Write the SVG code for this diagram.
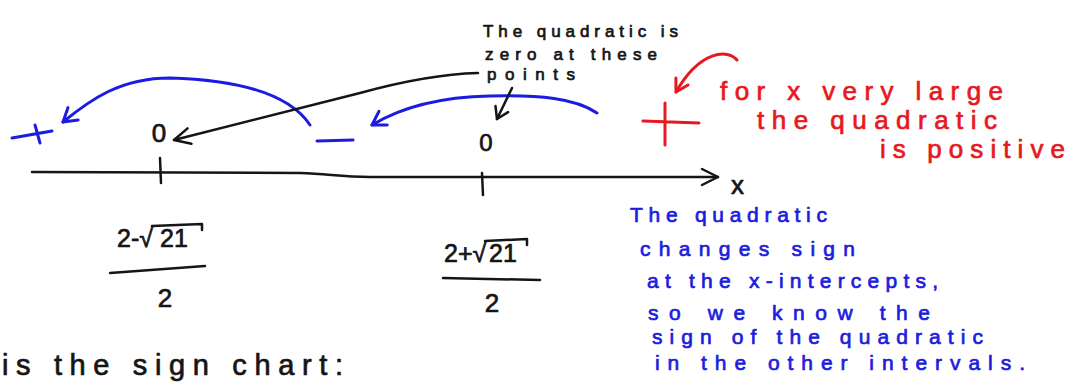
<svg xmlns="http://www.w3.org/2000/svg" width="1069" height="385" viewBox="0 0 1069 385">
  <style>
    .ink { fill: none; stroke-linecap: round; stroke-linejoin: round; }
    .k { stroke: #151515; stroke-width: 2.5; }
    .b { stroke: #1c1ce0; stroke-width: 3; }
    .r { stroke: #e81820; stroke-width: 3; }
    text { font-family: "Liberation Sans", Arial, sans-serif; stroke-width: 0.7; stroke-linejoin: round; }
    .tk { fill: #151515; stroke: #151515; }
    .tb { fill: #1c1ce0; stroke: #1c1ce0; }
    .tr { fill: #e81820; stroke: #e81820; }
  </style>
  <defs>
    <marker id="ah-k" markerUnits="userSpaceOnUse" markerWidth="24" markerHeight="24" viewBox="-20 -12 24 24" refX="0" refY="0" orient="auto">
      <path d="M -16 -8 L 0 0 L -16 8" fill="none" stroke="#151515" stroke-width="2.5" stroke-linecap="round" stroke-linejoin="round"/>
    </marker>
    <marker id="ah-ks" markerUnits="userSpaceOnUse" markerWidth="20" markerHeight="20" viewBox="-16 -10 20 20" refX="0" refY="0" orient="auto">
      <path d="M -11 -7 L 0 0 L -11 7" fill="none" stroke="#151515" stroke-width="2.5" stroke-linecap="round" stroke-linejoin="round"/>
    </marker>
    <marker id="ah-b" markerUnits="userSpaceOnUse" markerWidth="24" markerHeight="24" viewBox="-20 -12 24 24" refX="0" refY="0" orient="auto">
      <path d="M -13 -8 L 0 0 L -13 8" fill="none" stroke="#1c1ce0" stroke-width="3" stroke-linecap="round" stroke-linejoin="round"/>
    </marker>
    <marker id="ah-r" markerUnits="userSpaceOnUse" markerWidth="24" markerHeight="24" viewBox="-20 -12 24 24" refX="0" refY="0" orient="auto">
      <path d="M -12 -7 L 0 0 L -12 7" fill="none" stroke="#e81820" stroke-width="3" stroke-linecap="round" stroke-linejoin="round"/>
    </marker>
  </defs>

  <rect x="0" y="0" width="1069" height="385" fill="#ffffff"/>

  <g id="connectors">
    <path class="ink b" d="M 310 125 C 290 95, 240 80, 170 78 C 120 78, 90 100, 63 122" marker-end="url(#ah-b)"/>
    <path class="ink b" d="M 597 113 C 575 98, 540 95, 490 96 C 440 97, 400 108, 372 125" marker-end="url(#ah-b)"/>
    <path class="ink k" d="M 478 73 C 440 74, 400 82, 360 93 L 174 140" marker-end="url(#ah-k)"/>
    <path class="ink k" d="M 512 88 L 497 119" marker-end="url(#ah-ks)"/>
    <path class="ink r" d="M 737 60 C 728 49, 700 50, 676 92" marker-end="url(#ah-r)"/>
  </g>

  <g id="axis">
    <path class="ink k" d="M 32 172 L 300 173 C 330 174, 340 177, 370 177 L 718 177" marker-end="url(#ah-k)"/>
    <path class="ink k" d="M 160 158 L 161 183"/>
    <path class="ink k" d="M 482 173 L 483 195"/>
    <text class="tk" x="731" y="194" font-size="26">x</text>
  </g>

  <g id="sign-left">
    <path class="ink b" d="M 12 138 L 52 131 M 35 125 L 40 143"/>
  </g>
  <g id="sign-middle">
    <path class="ink b" d="M 317 141 L 353 140"/>
  </g>
  <g id="sign-right">
    <path class="ink r" d="M 643 121 L 699 123 M 665 103 L 665 145"/>
  </g>

  <g id="zero-left">
    <text class="tk" x="159" y="142" font-size="26" text-anchor="middle">0</text>
  </g>
  <g id="zero-right">
    <text class="tk" x="486" y="151" font-size="24" text-anchor="middle">0</text>
  </g>

  <g id="root-left">
    <text class="tk" x="117" y="247" font-size="25">2-√<tspan x="160">21</tspan></text>
    <path class="ink k" d="M 152 226 L 202 224 L 202 230"/>
    <path class="ink k" d="M 110 273 L 205 266"/>
    <text class="tk" x="165" y="307" font-size="26" text-anchor="middle">2</text>
  </g>
  <g id="root-right">
    <text class="tk" x="444" y="262" font-size="25">2+√<tspan x="489">21</tspan></text>
    <path class="ink k" d="M 485 241 L 527 239 L 527 245"/>
    <path class="ink k" d="M 443 278 L 540 280"/>
    <text class="tk" x="492" y="312" font-size="26" text-anchor="middle">2</text>
  </g>

  <g id="note-zero">
    <text class="tk" font-size="17">
      <tspan x="483" y="37" textLength="195">The quadratic is</tspan>
      <tspan x="485" y="60" textLength="172">zero at these</tspan>
      <tspan x="487" y="80" textLength="88">points</tspan>
    </text>
  </g>

  <g id="note-large">
    <text class="tr" font-size="26">
      <tspan x="720" y="100" textLength="283">for x very large</tspan>
      <tspan x="757" y="129" textLength="240">the quadratic</tspan>
      <tspan x="880" y="158" textLength="185">is positive</tspan>
    </text>
  </g>

  <g id="note-sign">
    <text class="tb" font-size="21">
      <tspan x="630" y="222" textLength="197">The quadratic</tspan>
      <tspan x="640" y="256" textLength="215">changes sign</tspan>
      <tspan x="647" y="288" textLength="291">at the x-intercepts,</tspan>
      <tspan x="648" y="320" textLength="282">so we know the</tspan>
      <tspan x="652" y="344" textLength="331">sign of the quadratic</tspan>
      <tspan x="655" y="370" textLength="370">in the other intervals.</tspan>
    </text>
  </g>

  <g id="caption">
    <text class="tk" x="2" y="375" font-size="29" textLength="341">is the sign chart:</text>
  </g>
</svg>
